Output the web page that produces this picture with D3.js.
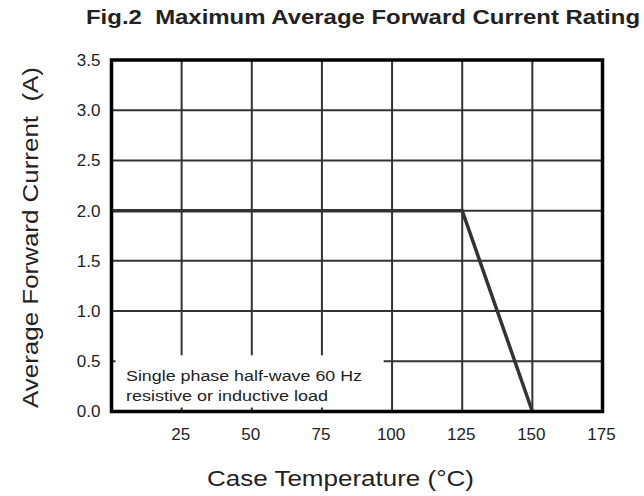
<!DOCTYPE html>
<html>
<head>
<meta charset="utf-8">
<script src="https://cdn.jsdelivr.net/npm/d3@7"></script>
<style>
  body { margin: 0; background: #fff; }
  text { font-family: "Liberation Sans", Arial, sans-serif; fill: #222; white-space: pre; }
</style>
</head>
<body>
<svg id="drawing_region"></svg>
<script>
// derating curve
const temps = [0, 125, 150];
const currents = [2.0, 2.0, 0.0];

const xticks = [25, 50, 75, 100, 125, 150, 175];
const yticks = [0.0, 0.5, 1.0, 1.5, 2.0, 2.5, 3.0, 3.5];

const title = "Fig.2  Maximum Average Forward Current Rating";
const xlabel = "Case Temperature (\u00B0C)";
const ylabel = "Average Forward Current  (A)";
const note = ["Single phase half-wave 60 Hz", "resistive or inductive load"];
const noteLen = [236, 202];

const width = 644, height = 496;
const plot = {left: 111.5, right: 602.5, top: 60, bottom: 411.5};

const svg = d3.select('#drawing_region')
    .attr('width', width)
    .attr('height', height);

const xscale = d3.scaleLinear().domain([0, 175]).range([plot.left, plot.right]);
const yscale = d3.scaleLinear().domain([0, 3.5]).range([plot.bottom, plot.top]);

// grid
const grid = svg.append('g').attr('stroke', '#333').attr('stroke-width', 2);
grid.selectAll('line.v')
    .data(xticks.filter(d => d < 175))
    .enter().append('line')
    .attr('x1', d => xscale(d)).attr('x2', d => xscale(d))
    .attr('y1', plot.top).attr('y2', plot.bottom);
grid.selectAll('line.h')
    .data(yticks.filter(d => d > 0 && d < 3.5))
    .enter().append('line')
    .attr('x1', plot.left).attr('x2', plot.right)
    .attr('y1', d => yscale(d)).attr('y2', d => yscale(d));

// note box hides the grid in the lower left corner
svg.append('rect')
    .attr('x', plot.left)
    .attr('y', yscale(0.5) - 6)
    .attr('width', xscale(97) - plot.left)
    .attr('height', plot.bottom - yscale(0.5) + 6)
    .attr('fill', '#fff');

// small inward ticks along the box edges
const ticks = svg.append('g').attr('stroke', '#333').attr('stroke-width', 2);
ticks.selectAll('line.bt')
    .data(xticks.filter(d => xscale(d) < xscale(97)))
    .enter().append('line')
    .attr('x1', d => xscale(d)).attr('x2', d => xscale(d))
    .attr('y1', plot.bottom).attr('y2', plot.bottom - 4);
ticks.append('line')
    .attr('x1', plot.left).attr('x2', plot.left + 4)
    .attr('y1', yscale(0.5)).attr('y2', yscale(0.5));

svg.selectAll('text.note')
    .data(note)
    .enter().append('text')
    .attr('x', 126)
    .attr('y', (d, i) => 381 + i * 19.5)
    .attr('textLength', (d, i) => noteLen[i])
    .attr('lengthAdjust', 'spacingAndGlyphs')
    .style('font-size', '15.5px')
    .text(d => d);

// curve
svg.append('path')
    .datum(d3.zip(temps, currents))
    .attr('fill', 'none')
    .attr('stroke', '#333')
    .attr('stroke-width', 3.5)
    .attr('stroke-linejoin', 'miter')
    .attr('d', d3.line().x(d => xscale(d[0])).y(d => yscale(d[1])));

// frame
svg.append('rect')
    .attr('x', plot.left).attr('y', plot.top)
    .attr('width', plot.right - plot.left).attr('height', plot.bottom - plot.top)
    .attr('fill', 'none')
    .attr('stroke', '#000')
    .attr('stroke-width', 3.5);

// axes
const xaxis = d3.axisBottom(xscale).tickValues(xticks).tickSize(0).tickPadding(16);
const xg = svg.append('g').attr('transform', `translate(-1.5, ${plot.bottom})`).call(xaxis);
xg.select('.domain').remove();
xg.selectAll('text').style('font-size', '17px').attr('fill', '#222');

const yaxis = d3.axisLeft(yscale).tickValues(yticks).tickFormat(d3.format('.1f')).tickSize(0).tickPadding(11);
const yg = svg.append('g').attr('transform', `translate(${plot.left}, 0)`).call(yaxis);
yg.select('.domain').remove();
yg.selectAll('text').style('font-size', '17px').attr('fill', '#222');

// titles
svg.append('text')
    .attr('x', 86).attr('y', 24)
    .attr('textLength', 554)
    .attr('lengthAdjust', 'spacingAndGlyphs')
    .style('font-size', '21px')
    .style('font-weight', 'bold')
    .text(title);

svg.append('text')
    .attr('x', 207).attr('y', 486)
    .attr('textLength', 267)
    .attr('lengthAdjust', 'spacingAndGlyphs')
    .style('font-size', '22px')
    .text(xlabel);

svg.append('text')
    .attr('transform', 'rotate(-90)')
    .attr('x', -408).attr('y', 38)
    .attr('textLength', 341)
    .attr('lengthAdjust', 'spacingAndGlyphs')
    .style('font-size', '22px')
    .text(ylabel);
</script>
</body>
</html>
